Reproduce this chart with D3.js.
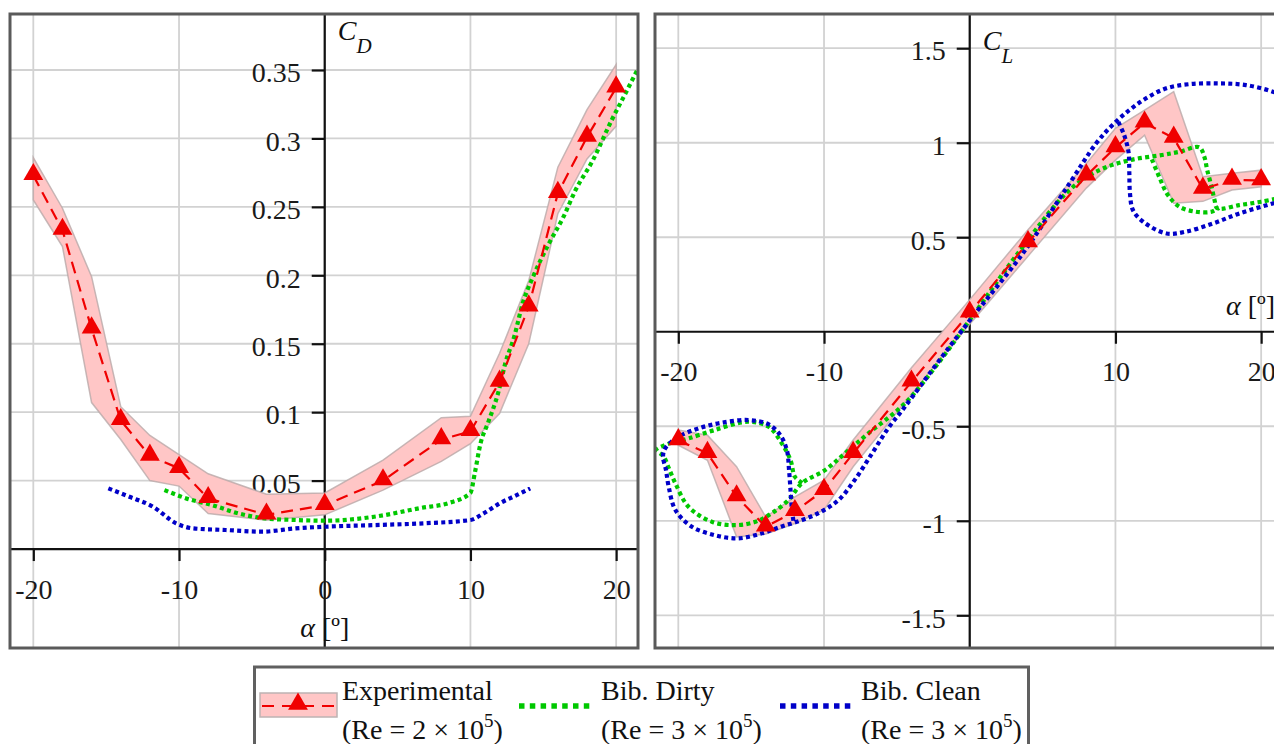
<!DOCTYPE html>
<html>
<head>
<meta charset="utf-8">
<script src="https://cdn.jsdelivr.net/npm/d3@7"></script>
<style>
  html, body { margin: 0; padding: 0; background: #fff; }
  svg { display: block; }
</style>
</head>
<body>
<script>
// ---- Experimental data (angle of attack in degrees) ----
const alphaExp = [-20, -18, -16, -14, -12, -10, -8, -4, 0, 4, 8, 10, 12, 14, 16, 18, 20];
const cdExp  = [0.273, 0.233, 0.161, 0.094, 0.068, 0.059, 0.037, 0.025, 0.032, 0.050, 0.080, 0.086, 0.122, 0.177, 0.260, 0.301, 0.337];
const cdHigh = [0.286, 0.249, 0.199, 0.104, 0.083, 0.069, 0.055, 0.040, 0.041, 0.065, 0.096, 0.097, 0.143, 0.196, 0.279, 0.321, 0.354];
const cdLow  = [0.255, 0.221, 0.107, 0.080, 0.050, 0.046, 0.026, 0.021, 0.025, 0.043, 0.064, 0.077, 0.099, 0.150, 0.245, 0.285, 0.309];

const clExp  = [-0.575, -0.643, -0.872, -1.032, -0.950, -0.838, -0.643, -0.265, 0.100, 0.472, 0.825, 0.975, 1.105, 1.025, 0.755, 0.803, 0.800];
const clHigh = [-0.520, -0.547, -0.714, -0.980, -0.873, -0.785, -0.573, -0.190, 0.170, 0.540, 0.890, 1.076, 1.173, 1.270, 0.820, 0.838, 0.855];
const clLow  = [-0.600, -0.680, -1.085, -1.070, -1.014, -0.943, -0.714, -0.330, 0.040, 0.400, 0.760, 0.908, 1.040, 0.680, 0.690, 0.750, 0.767];

// ---- Bibliography: dirty airfoil ----
const dirtyCdAlpha = [-11, -9.5, -7.7, -5.9, -4.1, -2, 0, 3.4, 6.6, 8.5, 10, 10.3, 10.7, 11.2, 11.9, 12.4, 13, 13.6, 14.3, 15.4, 16.4, 17.2, 18.4, 19.7, 20.5, 21.5];
const dirtyCd = [0.0431, 0.037, 0.032, 0.026, 0.0224, 0.0212, 0.0207, 0.0236, 0.030, 0.0336, 0.041, 0.0555, 0.0775, 0.092, 0.114, 0.136, 0.155, 0.18, 0.199, 0.2235, 0.243, 0.262, 0.284, 0.3135, 0.33, 0.351];

const dirtyClMainAlpha = [-11.5, -12.0, -12.3, -12.9, -13.8, -15.2, -17.5, -19.3, -20.2, -21.0, -21.5, -21.0, -20.66, -20.2, -19.3, -17.7, -16.1, -14.7, -13.6, -12.44, -11.5, -9.93, -8.56, -6.96, -4.45, -2, 0, 3.65, 6.85, 8.9, 11, 13.2, 14.4, 15.75, 16.1, 16.3, 16.6, 16.8, 17.0, 18.5, 20, 21.6];
const dirtyClMain = [-0.80, -0.767, -0.679, -0.59, -0.503, -0.476, -0.52, -0.564, -0.582, -0.602, -0.625, -0.66, -0.72, -0.802, -0.926, -1.005, -1.023, -1.005, -0.961, -0.89, -0.80, -0.732, -0.643, -0.538, -0.379, -0.15, 0.062, 0.45, 0.75, 0.855, 0.908, 0.935, 0.952, 0.976, 0.926, 0.855, 0.767, 0.697, 0.653, 0.67, 0.688, 0.712];
const dirtyClBranchAlpha = [12.5, 13.0, 13.6, 14.4, 15.5, 16.6, 17.1];
const dirtyClBranch = [0.912, 0.82, 0.723, 0.661, 0.635, 0.635, 0.655];

// ---- Bibliography: clean airfoil ----
const cleanCdAlpha = [-14.85, -13.4, -11.8, -10.2, -9.05, -6.8, -4.3, -2, 0, 3.4, 6.8, 10, 10.9, 12, 13.2, 14.1];
const cleanCd = [0.0443, 0.0382, 0.031, 0.0188, 0.0151, 0.0139, 0.0127, 0.0151, 0.0163, 0.0175, 0.0188, 0.0212, 0.026, 0.0334, 0.0395, 0.0443];

const cleanClMainAlpha = [-12.1, -12.2, -12.3, -12.4, -12.55, -13.0, -13.8, -15.2, -17.0, -18.6, -20.0, -20.9, -21.05, -20.85, -20.66, -20.2, -19.1, -17.5, -15.9, -14.3, -12.9, -11.5, -10.2, -9.0, -7.9, -6.7, -5.6, -4.45, -1.9, 0, 3.65, 6.85, 8.68, 9.8, 10.96, 12.1, 13.5, 15.1, 17.1, 18.95, 20.8, 21.7];
const cleanClMain = [-1.0, -0.943, -0.838, -0.732, -0.626, -0.547, -0.49, -0.467, -0.481, -0.511, -0.556, -0.617, -0.66, -0.73, -0.82, -0.943, -1.03, -1.076, -1.093, -1.067, -1.03, -0.996, -0.952, -0.89, -0.785, -0.643, -0.511, -0.397, -0.132, 0.06, 0.415, 0.785, 0.997, 1.094, 1.173, 1.235, 1.288, 1.31, 1.314, 1.305, 1.27, 1.24];
const cleanClBranchAlpha = [10.2, 10.6, 10.9, 10.95, 11.0, 11.2, 11.9, 13.5, 14.8, 16.7, 18.5, 20.8, 21.7];
const cleanClBranch = [1.11, 1.04, 0.95, 0.85, 0.73, 0.644, 0.582, 0.52, 0.529, 0.573, 0.626, 0.679, 0.70];

// ---- Ticks ----
const alphaTicksCd = [-20, -10, 0, 10, 20];
const alphaTicksCl = [-20, -10, 10, 20];
const alphaGrid = [-20, -10, 0, 10, 20];
const cdTicks = [0.05, 0.1, 0.15, 0.2, 0.25, 0.3, 0.35];
const clTicks = [-1.5, -1, -0.5, 0.5, 1, 1.5];

// ---- Styles ----
const RED = "#f00000", GREEN = "#00c800", BLUE = "#0000c8";
const FONT = '"Liberation Serif", "Times New Roman", serif';
const FS = 28;

const W = 1274, H = 744;
const svg = d3.select("body").append("svg")
  .attr("width", W).attr("height", H)
  .style("font-family", FONT);
svg.append("rect").attr("width", W).attr("height", H).attr("fill", "#fff");

const zip = (a, b) => a.map((v, i) => [v, b[i]]);
const expCd = alphaExp.map((a, i) => ({ a, v: cdExp[i], lo: cdLow[i], hi: cdHigh[i] }));
const expCl = alphaExp.map((a, i) => ({ a, v: clExp[i], lo: clLow[i], hi: clHigh[i] }));

function panel(cfg) {
  const { id, x0, y0, w, h, xDom, yDom } = cfg;
  const x = d3.scaleLinear().domain(xDom).range([x0, x0 + w]);
  const y = d3.scaleLinear().domain(yDom).range([y0 + h, y0]);
  const g = svg.append("g");

  g.append("clipPath").attr("id", "clip-" + id)
    .append("rect").attr("x", x0).attr("y", y0).attr("width", w).attr("height", h);

  // grid
  const grid = g.append("g").attr("stroke", "#d2d2d2").attr("stroke-width", 1.8);
  alphaGrid.forEach(a => grid.append("line")
    .attr("x1", x(a)).attr("x2", x(a)).attr("y1", y0).attr("y2", y0 + h));
  cfg.yTicks.forEach(v => grid.append("line")
    .attr("x1", x0).attr("x2", x0 + w).attr("y1", y(v)).attr("y2", y(v)));

  // axis lines through the origin
  g.append("line").attr("x1", x0).attr("x2", x0 + w).attr("y1", y(0)).attr("y2", y(0))
    .attr("stroke", "#111").attr("stroke-width", 2.2);
  g.append("line").attr("x1", x(0)).attr("x2", x(0)).attr("y1", y0).attr("y2", y0 + h)
    .attr("stroke", "#111").attr("stroke-width", 2.2);

  const yAxis = g.append("g").attr("transform", `translate(${x(0)},0)`)
    .call(d3.axisLeft(y).tickValues(cfg.yTicks).tickSize(13).tickPadding(11).tickFormat(d => String(d)));
  const xAxis = g.append("g").attr("transform", `translate(0,${y(0)})`)
    .call(d3.axisBottom(x).tickValues(cfg.xTicks).tickSize(12).tickPadding(18).tickFormat(d => String(d)));
  [yAxis, xAxis].forEach(ax => {
    ax.select(".domain").remove();
    ax.selectAll(".tick line").attr("stroke", "#111").attr("stroke-width", 2.2);
    ax.selectAll(".tick text").attr("fill", "#1a1a1a").style("font-size", FS + "px").style("font-family", FONT);
  });
  yAxis.selectAll(".tick text").attr("dy", "0.42em");
  xAxis.selectAll(".tick text").attr("dy", "0.7em");

  const data = g.append("g").attr("clip-path", `url(#clip-${id})`);
  return { x, y, g, data };
}

function drawExperimental(p, rows) {
  const { x, y, data } = p;
  data.append("path").datum(rows)
    .attr("d", d3.area().x(d => x(d.a)).y0(d => y(d.lo)).y1(d => y(d.hi)))
    .attr("fill", "#ffc6c6").attr("stroke", "#b9a9a9").attr("stroke-width", 1.5).attr("stroke-opacity", 0.8);
  return rows;
}
function drawExpLine(p, rows) {
  const { x, y, data } = p;
  data.append("path").datum(rows)
    .attr("d", d3.line().x(d => x(d.a)).y(d => y(d.v)))
    .attr("fill", "none").attr("stroke", RED).attr("stroke-width", 2.2).attr("stroke-dasharray", "12,7");
  data.selectAll(null).data(rows).join("path")
    .attr("transform", d => `translate(${x(d.a)},${y(d.v) - 1})`)
    .attr("d", d3.symbol(d3.symbolTriangle, 170))
    .attr("fill", RED);
}
function dotted(p, pts, color, curve) {
  const { x, y, data } = p;
  data.append("path").datum(pts)
    .attr("d", d3.line().x(d => x(d[0])).y(d => y(d[1])).curve(curve))
    .attr("fill", "none").attr("stroke", color).attr("stroke-width", 4.2)
    .attr("stroke-dasharray", "4,3.3");
}

// ---- Drag coefficient panel ----
const pD = panel({
  id: "cd", x0: 10, y0: 14, w: 628, h: 634,
  xDom: [-21.6, 21.5], yDom: [-0.0723, 0.3909],
  xTicks: alphaTicksCd, yTicks: cdTicks
});
drawExperimental(pD, expCd);
dotted(pD, zip(dirtyCdAlpha, dirtyCd), GREEN, d3.curveMonotoneX);
dotted(pD, zip(cleanCdAlpha, cleanCd), BLUE, d3.curveMonotoneX);
drawExpLine(pD, expCd);

// ---- Lift coefficient panel ----
const pL = panel({
  id: "cl", x0: 655, y0: 14, w: 628, h: 634,
  xDom: [-21.6, 21.5], yDom: [-1.673, 1.681],
  xTicks: alphaTicksCl, yTicks: clTicks
});
drawExperimental(pL, expCl);
dotted(pL, zip(dirtyClMainAlpha, dirtyClMain), GREEN, d3.curveCatmullRom.alpha(0.5));
dotted(pL, zip(dirtyClBranchAlpha, dirtyClBranch), GREEN, d3.curveCatmullRom.alpha(0.5));
dotted(pL, zip(cleanClMainAlpha, cleanClMain), BLUE, d3.curveCatmullRom.alpha(0.5));
dotted(pL, zip(cleanClBranchAlpha, cleanClBranch), BLUE, d3.curveCatmullRom.alpha(0.5));
drawExpLine(pL, expCl);

// ---- Axis titles ----
function coeffLabel(p, sub, baseY) {
  const t = p.g.append("text").attr("x", p.x(0) + 13).attr("y", baseY)
    .style("font-style", "italic").attr("fill", "#111").style("font-size", FS + "px");
  t.append("tspan").text("C");
  t.append("tspan").attr("dy", 13).style("font-size", "21px").text(sub);
}
coeffLabel(pD, "D", 40);
coeffLabel(pL, "L", 50);

function alphaLabel(p, xPos, baseY, anchor) {
  const t = p.g.append("text").attr("x", xPos).attr("y", baseY).attr("text-anchor", anchor)
    .attr("fill", "#111").style("font-size", FS + "px");
  t.append("tspan").style("font-style", "italic").text("α");
  t.append("tspan").text(" [º]");
}
alphaLabel(pD, pD.x(0), 637, "middle");
alphaLabel(pL, 1226, 315, "start");

// ---- Panel frames ----
[pD, pL].forEach((p, i) => {
  const r = i === 0 ? [10, 14, 628, 634] : [655, 14, 628, 634];
  p.g.append("rect").attr("x", r[0]).attr("y", r[1]).attr("width", r[2]).attr("height", r[3])
    .attr("fill", "none").attr("stroke", "#5a5a5a").attr("stroke-width", 3);
});

// ---- Legend ----
const lg = svg.append("g");
lg.append("rect").attr("x", 254.5).attr("y", 667).attr("width", 774).attr("height", 100)
  .attr("fill", "#fff").attr("stroke", "#606060").attr("stroke-width", 3);

lg.append("rect").attr("x", 260).attr("y", 693).attr("width", 77).attr("height", 24)
  .attr("fill", "#ffc6c6").attr("stroke", "#bdb3b3").attr("stroke-width", 1.5);
lg.append("line").attr("x1", 262).attr("x2", 336).attr("y1", 706).attr("y2", 706)
  .attr("stroke", RED).attr("stroke-width", 2.2).attr("stroke-dasharray", "12,8");
lg.append("path").attr("transform", "translate(298,704)")
  .attr("d", d3.symbol(d3.symbolTriangle, 170)).attr("fill", RED);
lg.append("line").attr("x1", 519).attr("x2", 594).attr("y1", 706).attr("y2", 706)
  .attr("stroke", GREEN).attr("stroke-width", 5.5).attr("stroke-dasharray", "5.5,5.3");
lg.append("line").attr("x1", 780).attr("x2", 855).attr("y1", 706).attr("y2", 706)
  .attr("stroke", BLUE).attr("stroke-width", 5.5).attr("stroke-dasharray", "5.5,5.3");

const legendItems = [
  { x: 342, name: "Experimental", re: "2" },
  { x: 601, name: "Bib. Dirty", re: "3" },
  { x: 861, name: "Bib. Clean", re: "3" }
];
legendItems.forEach(it => {
  lg.append("text").attr("x", it.x).attr("y", 700).attr("fill", "#111")
    .style("font-size", FS + "px").text(it.name);
  const t = lg.append("text").attr("x", it.x).attr("y", 739).attr("fill", "#111")
    .style("font-size", FS + "px");
  t.append("tspan").text(`(Re = ${it.re} × 10`);
  t.append("tspan").attr("dy", -12).style("font-size", "19px").text("5");
  t.append("tspan").attr("dy", 12).text(")");
});
</script>
</body>
</html>
